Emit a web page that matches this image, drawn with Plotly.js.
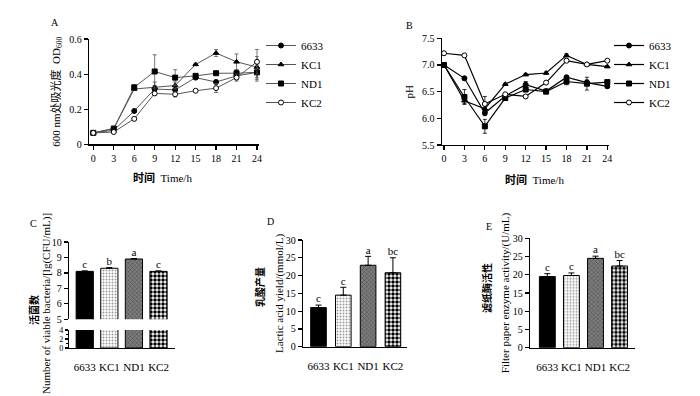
<!DOCTYPE html>
<html><head><meta charset="utf-8">
<script src="https://cdn.plot.ly/plotly-3.0.1.min.js"></script>
<style>html,body{margin:0;padding:0;background:#fff}#chart{width:700px;height:396px}</style>
</head><body><div id="chart"></div>
<script>
// ---------- data ----------
const times = [0, 3, 6, 9, 12, 15, 18, 21, 24];
const strains = ['6633', 'KC1', 'ND1', 'KC2'];

// Panel A: OD600
const od6633 = [0.065, 0.08, 0.19, 0.315, 0.31, 0.38, 0.355, 0.39, 0.41];
const odKC1  = [0.065, 0.09, 0.315, 0.325, 0.335, 0.455, 0.52, 0.47, 0.44];
const odND1  = [0.065, 0.09, 0.325, 0.415, 0.38, 0.39, 0.405, 0.405, 0.41];
const odKC2  = [0.065, 0.07, 0.145, 0.29, 0.285, 0.305, 0.32, 0.38, 0.47];
const odErr6633 = [0.005, 0.005, 0.005, 0.02, 0.02, 0.01, 0.01, 0.02, 0.05];
const odErrKC1  = [0.005, 0.005, 0.005, 0.03, 0.02, 0.005, 0.02, 0.045, 0.06];
const odErrND1  = [0.005, 0.005, 0.005, 0.095, 0.045, 0.01, 0.005, 0.02, 0.04];
const odErrKC2  = [0.005, 0.005, 0.005, 0.01, 0.015, 0.005, 0.025, 0.02, 0.07];

// Panel B: pH
const ph6633 = [7.0, 6.75, 6.1, 6.42, 6.63, 6.51, 6.77, 6.67, 6.6];
const phKC1  = [7.0, 6.33, 6.18, 6.64, 6.82, 6.85, 7.18, 7.01, 6.97];
const phND1  = [7.0, 6.4, 5.85, 6.38, 6.54, 6.5, 6.69, 6.65, 6.68];
const phKC2  = [7.22, 7.18, 6.27, 6.45, 6.41, 6.67, 7.08, 7.01, 7.08];
const phErr6633 = [0.02, 0.03, 0.05, 0.03, 0.06, 0.02, 0.03, 0.05, 0.03];
const phErrKC1  = [0.02, 0.05, 0.03, 0.02, 0.02, 0.02, 0.03, 0.02, 0.02];
const phErrND1  = [0.02, 0.14, 0.13, 0.04, 0.04, 0.02, 0.06, 0.12, 0.03];
const phErrKC2  = [0.01, 0.01, 0.14, 0.02, 0.02, 0.02, 0.03, 0.02, 0.02];

// Panel C: viable bacteria lg(CFU/mL)
const viable = [8.1, 8.3, 8.9, 8.1];
const viableErr = [0.03, 0.04, 0.03, 0.03];
const viableLetters = ['c', 'b', 'a', 'c'];

// Panel D: lactic acid yield mmol/L
const lactic = [11.0, 14.5, 22.9, 20.8];
const lacticErr = [0.7, 2.2, 2.5, 4.2];
const lacticLetters = ['c', 'c', 'a', 'bc'];

// Panel E: filter paper enzyme activity U/mL
const enzyme = [19.5, 19.8, 24.5, 22.4];
const enzymeErr = [0.8, 0.7, 0.6, 1.5];
const enzymeLetters = ['c', 'c', 'a', 'bc'];

// ---------- styling ----------
const SERIF = 'Liberation Serif, Times New Roman, Noto Sans CJK SC, serif';
const W = 700, H = 396;
const px = v => v / W;
const py = v => 1 - v / H;

const symbols = {
  '6633': {symbol: 'circle', color: '#000'},
  'KC1': {symbol: 'triangle-up', color: '#000'},
  'ND1': {symbol: 'square', color: '#000'},
  'KC2': {symbol: 'circle', color: '#fff'}
};

const odSeries = [od6633, odKC1, odND1, odKC2];
const odErrs = [odErr6633, odErrKC1, odErrND1, odErrKC2];
const phSeries = [ph6633, phKC1, phND1, phKC2];
const phErrs = [phErr6633, phErrKC1, phErrND1, phErrKC2];

const traces = [];
strains.forEach((s, i) => {
  traces.push({
    type: 'scatter', mode: 'lines+markers', name: s, x: times, y: odSeries[i],
    xaxis: 'x', yaxis: 'y', legend: 'legend', cliponaxis: false,
    line: {color: '#555', width: 1},
    marker: {symbol: symbols[s].symbol, size: 5, color: symbols[s].color, line: {color: '#000', width: 1}},
    error_y: {type: 'data', array: odErrs[i], visible: true, color: '#555', thickness: 0.8, width: 2}
  });
});
strains.forEach((s, i) => {
  traces.push({
    type: 'scatter', mode: 'lines+markers', name: s, x: times, y: phSeries[i],
    xaxis: 'x2', yaxis: 'y2', legend: 'legend2', cliponaxis: false,
    line: {color: '#000', width: 1.2},
    marker: {symbol: symbols[s].symbol, size: 5, color: symbols[s].color, line: {color: '#000', width: 1}},
    error_y: {type: 'data', array: phErrs[i], visible: true, color: '#000', thickness: 0.8, width: 2}
  });
});

// per-strain bar fills
const barStyles = [
  {color: '#000'},
  {color: '#fff', pattern: {shape: '.', fgcolor: '#9c9c9c', bgcolor: '#fff', size: 3, solidity: 0.35, fillmode: 'replace'}},
  {color: '#6e6e6e', pattern: {shape: 'x', fgcolor: '#4a4a4a', bgcolor: '#7c7c7c', size: 3, solidity: 0.3, fillmode: 'replace'}},
  {color: '#fff', pattern: {shape: '.', fgcolor: '#000', bgcolor: '#fff', size: 4, solidity: 0.6, fillmode: 'replace'}}
];

function addBars(vals, errs, xa, ya, width, withErr) {
  strains.forEach((s, i) => {
    const m = Object.assign({line: {color: '#000', width: 1}}, barStyles[i]);
    traces.push({type: 'bar', x: [s], y: [vals[i]], xaxis: xa, yaxis: ya, width: width, showlegend: false,
      marker: m,
      error_y: {type: 'data', symmetric: false, array: [withErr ? errs[i] : 0], arrayminus: [0],
        visible: withErr, color: '#000', thickness: 1, width: 3}});
  });
}
function letterTrace(vals, errs, letters, xa, ya) {
  return {type: 'scatter', mode: 'text', x: strains, y: vals.map((v, i) => v + errs[i]), text: letters,
    textposition: 'top center', textfont: {family: SERIF, size: 11, color: '#000'},
    xaxis: xa, yaxis: ya, showlegend: false, cliponaxis: false, hoverinfo: 'skip'};
}

// C lower (x3,y3) and upper (x4,y4)
addBars(viable, viableErr, 'x3', 'y3', 0.7, false);
addBars(viable, viableErr, 'x4', 'y4', 0.7, true);
traces.push(letterTrace(viable, viableErr, viableLetters, 'x4', 'y4'));
// D
addBars(lactic, lacticErr, 'x5', 'y5', 0.63, true);
traces.push(letterTrace(lactic, lacticErr, lacticLetters, 'x5', 'y5'));
// E
addBars(enzyme, enzymeErr, 'x6', 'y6', 0.66, true);
traces.push(letterTrace(enzyme, enzymeErr, enzymeLetters, 'x6', 'y6'));

const tickFont = {family: SERIF, size: 10, color: '#000'};
const axBase = {showgrid: false, zeroline: false, showline: true, linecolor: '#000', linewidth: 1.2,
  ticks: 'outside', ticklen: 4, tickwidth: 1.2, tickcolor: '#000', tickfont: tickFont, fixedrange: true};
const titleFont = {family: SERIF, size: 11, color: '#000'};
const catFont = {family: SERIF, size: 11, color: '#000'};
const cjkFont = {family: SERIF, size: 10, color: '#000'};

function ann(text, x, y, opts) {
  return Object.assign({text: text, x: px(x), y: py(y), xref: 'paper', yref: 'paper', showarrow: false,
    xanchor: 'center', yanchor: 'middle', font: {family: SERIF, size: 10, color: '#000'}}, opts || {});
}

const layout = {
  width: W, height: H, margin: {l: 0, r: 0, t: 0, b: 0},
  paper_bgcolor: '#fff', plot_bgcolor: 'rgba(0,0,0,0)',
  font: {family: SERIF, color: '#000'},
  showlegend: true, barmode: 'overlay',
  legend: {x: px(261), y: py(31), xanchor: 'left', yanchor: 'top', bgcolor: 'rgba(0,0,0,0)',
    font: {family: SERIF, size: 11, color: '#000'}, itemwidth: 30, tracegroupgap: 0},
  legend2: {x: px(609), y: py(31), xanchor: 'left', yanchor: 'top', bgcolor: 'rgba(0,0,0,0)',
    font: {family: SERIF, size: 11, color: '#000'}, itemwidth: 30, tracegroupgap: 0},
  xaxis: Object.assign({}, axBase, {domain: [px(89), px(258.7)], range: [-0.63, 24.25], tickvals: times, anchor: 'y'}),
  yaxis: Object.assign({}, axBase, {domain: [py(144.3), py(39)], range: [0, 0.6], tickvals: [0, 0.2, 0.4, 0.6],
    ticktext: ['0', '0.2', '0.4', '0.6'], anchor: 'x',
    title: {text: '600 nm处吸光度  OD<sub>600</sub>', font: titleFont, standoff: 6}}),
  xaxis2: Object.assign({}, axBase, {domain: [px(441.7), px(608.7)], range: [-0.34, 24.2], tickvals: times, anchor: 'y2'}),
  yaxis2: Object.assign({}, axBase, {domain: [py(145), py(38.3)], range: [5.5, 7.5], tickvals: [5.5, 6, 6.5, 7, 7.5],
    tickformat: '.1f', anchor: 'x2', title: {text: 'pH', font: titleFont, standoff: 6}}),
  // C lower
  xaxis3: Object.assign({}, axBase, {domain: [px(69), px(175)], range: [-0.64, 3.67], anchor: 'y3', type: 'category',
    ticks: '', ticklabelstandoff: 9, tickfont: catFont}),
  yaxis3: Object.assign({}, axBase, {domain: [py(348), py(330)], range: [0, 4], tickvals: [0, 2, 4],
    tickfont: {family: SERIF, size: 8, color: '#000'}, ticklen: 3,
    minor: {dtick: 1, ticks: 'outside', ticklen: 2, tickcolor: '#000', tickwidth: 1}, anchor: 'x3'}),
  // C upper
  xaxis4: {domain: [px(69), px(175)], range: [-0.64, 3.67], anchor: 'y4', type: 'category', visible: false, fixedrange: true},
  yaxis4: Object.assign({}, axBase, {domain: [py(319.3), py(242)], range: [5, 10], dtick: 1, anchor: 'x4'}),
  // D
  xaxis5: Object.assign({}, axBase, {domain: [px(303), px(406.7)], range: [-0.625, 3.556], anchor: 'y5', type: 'category',
    ticks: '', ticklabelstandoff: 9, tickfont: catFont}),
  yaxis5: Object.assign({}, axBase, {domain: [py(346.7), py(240)], range: [0, 30], dtick: 5, anchor: 'x5',
    title: {text: 'Lactic acid yield/(mmol/L)', font: titleFont, standoff: 0}}),
  // E
  xaxis6: Object.assign({}, axBase, {domain: [px(530), px(635)], range: [-0.72, 3.64], anchor: 'y6', type: 'category',
    ticks: '', ticklabelstandoff: 9, tickfont: catFont}),
  yaxis6: Object.assign({}, axBase, {domain: [py(347.7), py(238.3)], range: [0, 30], dtick: 5, anchor: 'x6',
    title: {text: 'Filter paper enzyme activity/(U/mL)', font: titleFont, standoff: 1}}),
  annotations: [
    ann('A', 55, 23), ann('B', 409, 25), ann('C', 33, 223), ann('D', 270, 222), ann('E', 489, 226),
    ann('<b>时间</b>  Time/h', 162, 177, {font: {family: SERIF, size: 11, color: '#000'}}),
    ann('<b>时间</b>  Time/h', 534, 179, {font: {family: SERIF, size: 11, color: '#000'}}),
    ann('<b>活菌数</b>', 34, 310, {textangle: -90, font: cjkFont}),
    ann('Number of viable bacteria/[lg(CFU/mL)]', 46, 304, {textangle: -90, font: titleFont}),
    ann('<b>乳酸产量</b>', 260, 287, {textangle: -90, font: cjkFont}),
    ann('<b>滤纸酶活性</b>', 487, 288, {textangle: -90, font: cjkFont})
  ]
};

Plotly.newPlot('chart', traces, layout, {staticPlot: true, displayModeBar: false});
</script></body></html>
